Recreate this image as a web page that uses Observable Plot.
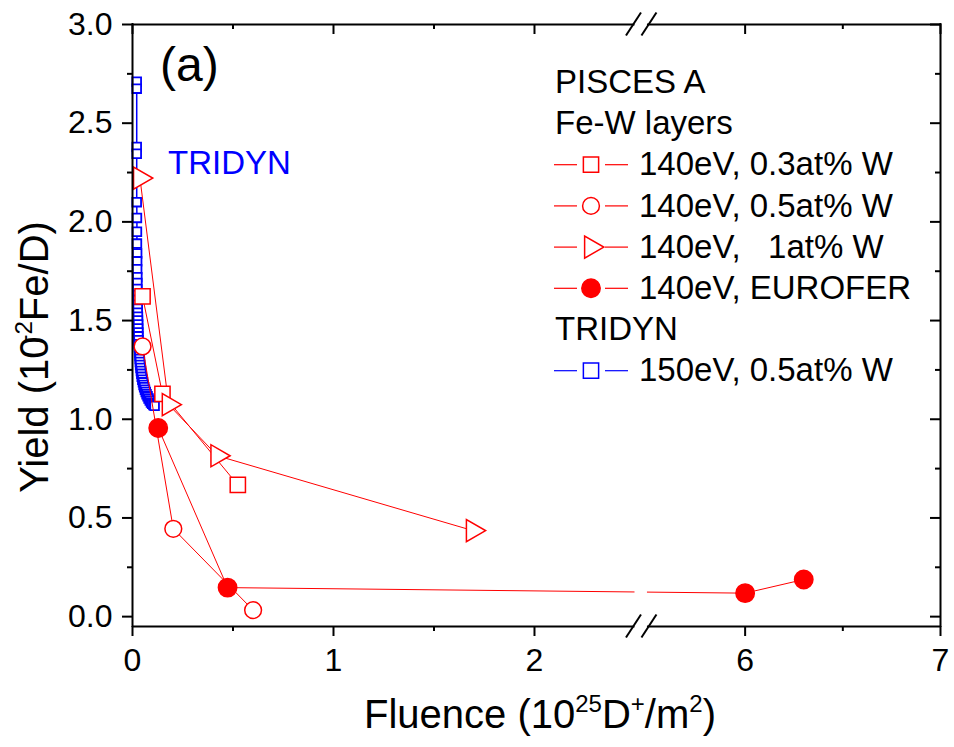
<!DOCTYPE html>
<html><head><meta charset="utf-8">
<script src="https://cdn.jsdelivr.net/npm/d3@7"></script>
<script src="https://cdn.jsdelivr.net/npm/@observablehq/plot@0.6"></script>
<style>html,body{margin:0;padding:0;background:#fff}svg{display:block}</style>
</head><body><div id="chart"></div>
<script>
// ---- data ----
const sq03X = [0.050, 0.149, 0.524];
const sq03Y = [1.623, 1.129, 0.667];
const c05X = [0.050, 0.203, 0.600];
const c05Y = [1.369, 0.445, 0.033];
const tri1X = [0.037, 0.180, 0.422, 1.693];
const tri1Y = [2.222, 1.074, 0.815, 0.436];
const euroX = [0.128, 0.473, 6.00, 6.30];
const euroY = [0.956, 0.147, 0.119, 0.188];
const tridynX = [0.021, 0.021, 0.021, 0.021, 0.021, 0.022, 0.022, 0.022, 0.023, 0.023, 0.023, 0.024, 0.024, 0.024, 0.025, 0.025, 0.025, 0.026, 0.026, 0.027, 0.027, 0.028, 0.028, 0.029, 0.029, 0.030, 0.031, 0.032, 0.033, 0.034, 0.035, 0.036, 0.037, 0.038, 0.040, 0.042, 0.044, 0.046, 0.049, 0.052, 0.055, 0.058, 0.062, 0.066, 0.070, 0.075, 0.080, 0.086, 0.092, 0.098, 0.104, 0.110];
const tridynY = [2.71, 2.675, 2.38, 2.345, 2.10, 2.02, 1.95, 1.89, 1.84, 1.80, 1.76, 1.72, 1.69, 1.66, 1.63, 1.605, 1.58, 1.56, 1.54, 1.52, 1.50, 1.48, 1.46, 1.44, 1.42, 1.40, 1.38, 1.365, 1.35, 1.335, 1.32, 1.305, 1.29, 1.275, 1.26, 1.245, 1.23, 1.215, 1.20, 1.187, 1.174, 1.162, 1.15, 1.138, 1.127, 1.116, 1.105, 1.095, 1.085, 1.078, 1.072, 1.068];

const seriesNames = ["140eV, 0.3at% W", "140eV, 0.5at% W", "140eV,   1at% W", "140eV, EUROFER"];
const tridynName = "150eV, 0.5at% W";
const legendHeads = ["PISCES A", "Fe-W layers", "TRIDYN"];

const xSegments = [[0, 2.5], [5.5, 7]];   // broken axis: 0–2.5 // 5.5–7
const yDomain = [-0.05, 3.0];
const xMajor = [0, 1, 2, 6, 7];
const xMinor = [0.5, 1.5, 6.5];
const yMajor = [0, 0.5, 1, 1.5, 2, 2.5, 3];
const yMinor = [0.25, 0.75, 1.25, 1.75, 2.25, 2.75];

// ---- layout / styling ----
const RED = "#ff0000", BLUE = "#0000ff";
const W = 954, H = 747;
const ml = 132, mr = 14, mt = 24, mb = 121;
const FONT = "Arial, 'Liberation Sans', Helvetica, sans-serif";
const GAP = 0.062;          // width of the break, in left-segment units
const K2 = 0.972;           // relative scale of the right segment

// broken-axis transform
const toT = x => x <= xSegments[0][1] ? x : xSegments[0][1] + GAP + (x - xSegments[1][0]) * K2;
const fromT = t => t <= xSegments[0][1] + GAP / 2 ? t : xSegments[1][0] + (t - xSegments[0][1] - GAP) / K2;
const tDomain = [toT(xSegments[0][0]), toT(xSegments[1][1])];

const zip = (xs, ys) => xs.slice(0, Math.min(xs.length, ys.length)).map((x, i) => ({x: toT(x), y: ys[i]}));
const series = [
  {name: seriesNames[0], data: zip(sq03X, sq03Y), symbol: "square", fill: "white", r: 8.6},
  {name: seriesNames[1], data: zip(c05X, c05Y), symbol: "circle", fill: "white", r: 8.4},
  {name: seriesNames[2], data: zip(tri1X, tri1Y), symbol: "triangle", fill: "white", r: 8.2, rotate: 90},
  {name: seriesNames[3], data: zip(euroX, euroY), symbol: "circle", fill: RED, r: 9.2}
];
const tridyn = zip(tridynX, tridynY);

const frameSegs = [];
[yDomain[0], yDomain[1]].forEach(y => xSegments.forEach(([a, b]) => frameSegs.push({y, x1: toT(a), x2: toT(b)})));
const gapBox = [{x1: toT(xSegments[0][1]), x2: toT(xSegments[1][0]), y1: yDomain[0], y2: yDomain[1]}];

const innerW = W - mr - ml, innerH = H - mb - mt;
const xFmt = t => String(Math.round(fromT(t) * 10) / 10);

const plot = Plot.plot({
  width: W, height: H,
  marginLeft: ml, marginRight: mr, marginTop: mt, marginBottom: mb,
  style: {fontFamily: FONT, fontSize: "32px", color: "black", background: "white", overflow: "visible"},
  x: {domain: tDomain},
  y: {domain: yDomain},
  marks: [
    Plot.line(tridyn, {x: "x", y: "y", stroke: BLUE, strokeWidth: 1.5}),
    Plot.dot(tridyn, {x: "x", y: "y", symbol: "square", r: 4.9, stroke: BLUE, fill: "white", strokeWidth: 1.8}),
    ...series.map(s => Plot.line(s.data, {x: "x", y: "y", stroke: RED, strokeWidth: 1})),
    Plot.rect(gapBox, {x1: "x1", x2: "x2", y1: "y1", y2: "y2", fill: "white"}),
    ...series.map(s => Plot.dot(s.data, {x: "x", y: "y", symbol: s.symbol, r: s.r, stroke: RED, fill: s.fill, strokeWidth: 1.5, rotate: s.rotate || 0})),
    // left axis (outward ticks + labels)
    Plot.axisY(yMajor, {anchor: "left", tickSize: 10, tickPadding: 10, tickFormat: d3.format(".1f"), strokeWidth: 2, label: null, fontSize: 32}),
    Plot.axisY(yMinor, {anchor: "left", tickSize: 5, fill: "none", strokeWidth: 2, label: null}),
    // right axis (inward ticks)
    Plot.axisY(yMajor, {anchor: "left", tickSize: 10, fill: "none", strokeWidth: 2, label: null, dx: innerW}),
    Plot.axisY(yMinor, {anchor: "left", tickSize: 5, fill: "none", strokeWidth: 2, label: null, dx: innerW}),
    // bottom axis
    Plot.axisX(xMajor.map(toT), {anchor: "bottom", tickSize: 10, tickPadding: 12, tickFormat: xFmt, strokeWidth: 2, label: null, fontSize: 32}),
    Plot.axisX(xMinor.map(toT), {anchor: "bottom", tickSize: 5, fill: "none", strokeWidth: 2, label: null}),
    // top axis (inward ticks)
    Plot.axisX(xMajor.map(toT), {anchor: "bottom", tickSize: 10, fill: "none", strokeWidth: 2, label: null, dy: -innerH}),
    Plot.axisX(xMinor.map(toT), {anchor: "bottom", tickSize: 5, fill: "none", strokeWidth: 2, label: null, dy: -innerH}),
    // frame with break gap
    Plot.ruleX(tDomain, {strokeWidth: 2, strokeLinecap: "square"}),
    Plot.ruleY(frameSegs, {y: "y", x1: "x1", x2: "x2", strokeWidth: 2})
  ]
});

const svg = d3.select(plot);
const sx = plot.scale("x"), sy = plot.scale("y");

// break marks //
const yTop = sy.apply(yDomain[1]), yBot = sy.apply(yDomain[0]);
[sx.apply(gapBox[0].x1) - 1, sx.apply(gapBox[0].x2) + 2].forEach(cx => {
  [yTop, yBot].forEach(cy => {
    svg.append("line").attr("x1", cx - 7.5).attr("y1", cy + 11.5).attr("x2", cx + 7.5).attr("y2", cy - 11.5)
      .attr("stroke", "black").attr("stroke-width", 2);
  });
});

// annotations
const ann = svg.append("g").attr("font-family", FONT).attr("text-anchor", "start");
ann.append("text").attr("x", 160).attr("y", 81).attr("font-size", 48).attr("fill", "black").text("(a)");
ann.append("text").attr("x", 168).attr("y", 174).attr("font-size", 33).attr("fill", BLUE).text("TRIDYN");

// legend
const lg = svg.append("g").attr("font-family", FONT).attr("font-size", 33).attr("text-anchor", "start");
const rows = [
  {head: legendHeads[0]},
  {head: legendHeads[1]},
  ...series.map(s => ({s, color: RED})),
  {head: legendHeads[2]},
  {s: {name: tridynName, symbol: "square", fill: "white", r: 8.6}, color: BLUE}
];
const symMap = {square: d3.symbolSquare, circle: d3.symbolCircle, triangle: d3.symbolTriangle};
rows.forEach((row, i) => {
  const base = 93 + i * 41.2;
  if (row.head) {
    lg.append("text").attr("x", 555).attr("y", base).attr("fill", "black").text(row.head);
    return;
  }
  const cy = base - 10.7, cx = 591;
  lg.append("line").attr("x1", 554).attr("x2", 577).attr("y1", cy).attr("y2", cy).attr("stroke", row.color).attr("stroke-width", 1.2);
  lg.append("line").attr("x1", 605).attr("x2", 628).attr("y1", cy).attr("y2", cy).attr("stroke", row.color).attr("stroke-width", 1.2);
  lg.append("path")
    .attr("d", d3.symbol(symMap[row.s.symbol], Math.PI * row.s.r * row.s.r)())
    .attr("transform", `translate(${cx},${cy}) rotate(${row.s.rotate || 0})`)
    .attr("fill", row.s.fill).attr("stroke", row.color).attr("stroke-width", 1.5);
  lg.append("text").attr("x", 639).attr("y", base).attr("fill", "black")
    .attr("xml:space", "preserve").style("white-space", "pre").text(row.s.name);
});

// axis titles
const xt = svg.append("text").attr("x", 540).attr("y", 728).attr("text-anchor", "middle")
  .attr("font-family", FONT).attr("font-size", 40).attr("fill", "black");
xt.append("tspan").text("Fluence (10");
xt.append("tspan").attr("font-size", 24).attr("dy", -16).text("25");
xt.append("tspan").attr("dy", 16).text("D");
xt.append("tspan").attr("font-size", 24).attr("dy", -16).text("+");
xt.append("tspan").attr("dy", 16).text("/m");
xt.append("tspan").attr("font-size", 24).attr("dy", -16).text("2");
xt.append("tspan").attr("dy", 16).text(")");

const yt = svg.append("text").attr("transform", "translate(48,357) rotate(-90)").attr("text-anchor", "middle")
  .attr("font-family", FONT).attr("font-size", 40).attr("fill", "black");
yt.append("tspan").text("Yield (10");
yt.append("tspan").attr("font-size", 24).attr("dy", -16).attr("dx", -6).text("-2");
yt.append("tspan").attr("dy", 16).text("Fe/D)");

document.getElementById("chart").appendChild(plot);
</script>
</body></html>
